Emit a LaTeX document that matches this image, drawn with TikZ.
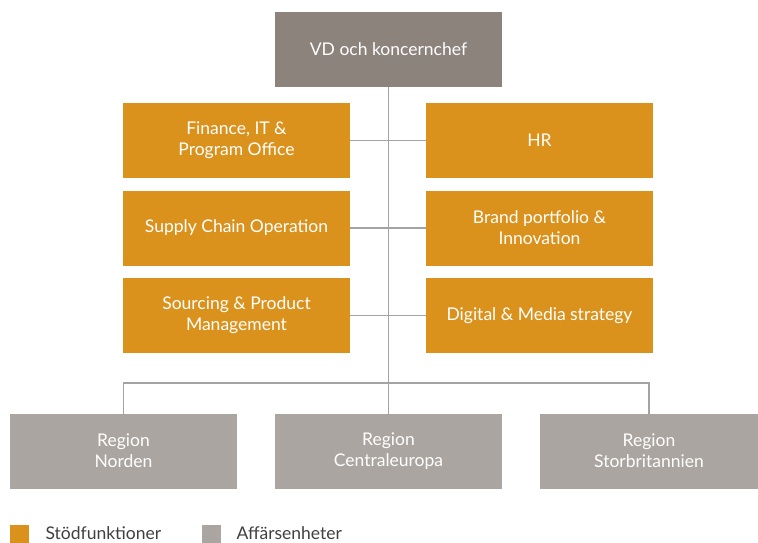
\documentclass[tikz,border=0pt]{standalone}
\usepackage{fontspec}
\setmainfont{Lato}
\usetikzlibrary{positioning,calc}
\definecolor{chefgray}{HTML}{8C837D}
\definecolor{stodorange}{HTML}{DA921C}
\definecolor{affgray}{HTML}{AAA5A0}
\definecolor{linegray}{HTML}{A3A3A3}

\begin{document}
\begin{tikzpicture}[x=1pt,y=-1pt,
		box/.style={rectangle,inner sep=0pt,outer sep=0pt,minimum width=227pt,minimum height=75pt,
				align=center,text=white,font=\fontsize{17.5}{21}\selectfont},
		chef/.style={box,fill=chefgray},
		stod/.style={box,fill=stodorange},
		aff/.style={box,fill=affgray},
		conn/.style={draw=linegray,line width=1.3pt},
		legend/.style={rectangle,inner sep=0pt,minimum size=19pt},
		legtext/.style={anchor=base west,text=black!75,font=\fontsize{17.5}{21}\selectfont}]
\useasboundingbox (0,0) rectangle (758,542);
\coordinate (bus) at (388.5,383);
\coordinate (busl) at (123.5,383);
\coordinate (busr) at (649,383);
\node[chef] (vd) at (388.5,49.5) {VD och koncernchef};
\node[stod] (fin) at (236.5,140.5) {Finance, IT \&\\Program Office};
\node[stod] (hr) at (539.5,140.5) {HR};
\node[stod] (supply) at (236.5,228) {Supply Chain Operation};
\node[stod] (brand) at (539.5,228) {Brand portfolio \&\\Innovation};
\node[stod] (sourcing) at (236.5,315.5) {Sourcing \& Product\\Management};
\node[stod] (digital) at (539.5,315.5) {Digital \& Media strategy};
\node[aff] (norden) at (123.5,451) {Region\\Norden};
\node[aff] (central) at (388.5,451) {Region\\Centraleuropa};
\node[aff,minimum width=218pt] (storbr) at (649,451) {Region\\Storbritannien};
\draw[conn] (vd.south) -- (bus);
\draw[conn] (fin.east) -- (hr.west);
\draw[conn] (supply.east) -- (brand.west);
\draw[conn] (sourcing.east) -- (digital.west);
\draw[conn] (norden.north) -- (busl) -- (busr) -- (storbr.north);
\draw[conn] (bus) -- (central.north);
% legend
\node[legend,fill=stodorange] (legstod) at (19.5,534.5) {};
\node[legtext] (legstodtext) at (42,539) {Stödfunktioner};
\node[legend,fill=affgray] (legaff) at (211.5,534.5) {};
\node[legtext] (legafftext) at (233,539) {Affärsenheter};
\end{tikzpicture}
\end{document}
